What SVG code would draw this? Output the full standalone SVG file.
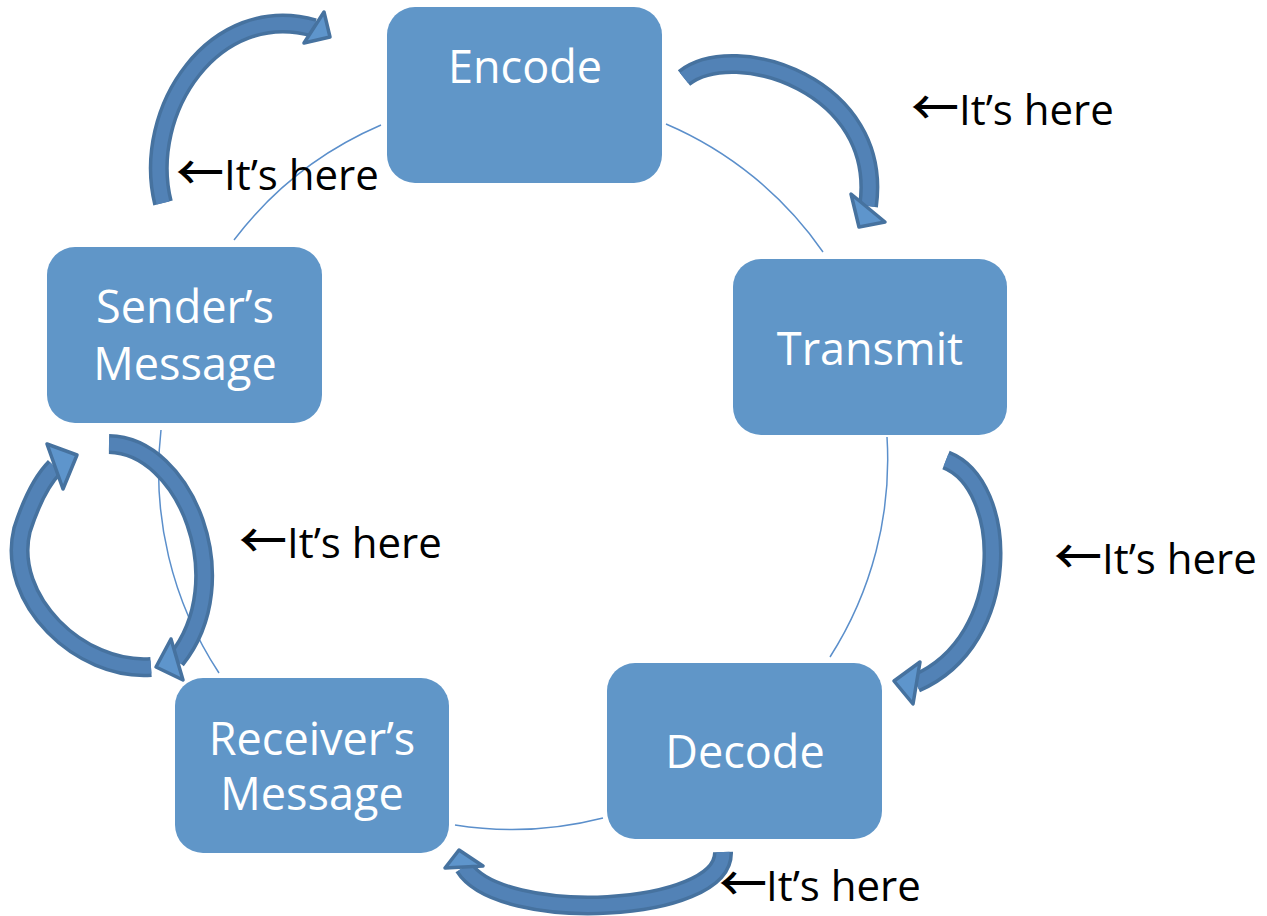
<svg xmlns="http://www.w3.org/2000/svg" width="1267" height="916" viewBox="0 0 1267 916">
<style>
.node rect{fill:#6096C8}
.node text{font-family:"Open Sans","Liberation Sans",sans-serif;font-size:45px;fill:#ffffff;text-anchor:middle}
.conn{fill:none;stroke:#5B8FCB;stroke-width:1.5}
.ao{fill:none;stroke:#46729F;stroke-width:20}
.ai{fill:none;stroke:#5282B6;stroke-width:13}
.head{fill:#5E95CC;stroke:#46729F;stroke-width:3.5;stroke-linejoin:round}
.label{font-family:"Open Sans","Liberation Sans",sans-serif;font-size:42px;fill:#000000}
.ar{font-family:"Noto Sans CJK JP","DejaVu Sans",sans-serif;font-size:48px;font-weight:500}
</style>
<rect width="1267" height="916" fill="#ffffff"/>
<g id="connectors">
<path class="conn" d="M666,124 A366,366 0 0 1 823,252"/>
<path class="conn" d="M887,437 A366,366 0 0 1 830,657"/>
<path class="conn" d="M603,818 A366,366 0 0 1 455,825"/>
<path class="conn" d="M219,673 A366,366 0 0 1 161,430"/>
<path class="conn" d="M234,240 A366,366 0 0 1 381,125"/>
</g>
<g id="node-encode" class="node"><rect x="387" y="7" width="275" height="176" rx="28"/><text x="525" y="83">Encode</text></g>
<g id="node-transmit" class="node"><rect x="733" y="259" width="274" height="176" rx="28"/><text x="870" y="365">Transmit</text></g>
<g id="node-decode" class="node"><rect x="607" y="663" width="275" height="176" rx="28"/><text x="745" y="768">Decode</text></g>
<g id="node-receiver" class="node"><rect x="175" y="678" width="274" height="175" rx="28"/><text x="312" y="755">Receiver’s</text><text x="312" y="810">Message</text></g>
<g id="node-sender" class="node"><rect x="47" y="247" width="275" height="176" rx="28"/><text x="185" y="323">Sender’s</text><text x="185" y="380">Message</text></g>
<g id="arrows">
<g id="arrow-a"><path class="ao" d="M163,203 C140,110 215,0 314,28"/><path class="ai" d="M163,203 C140,110 215,0 314,28"/><polygon class="head" points="324,12 330,37 304,43"/></g>
<g id="arrow-b"><path class="ao" d="M684,78 C735,38 885,85 868,206"/><path class="ai" d="M684,78 C735,38 885,85 868,206"/><polygon class="head" points="851,194 859,227 885,222"/></g>
<g id="arrow-c"><path class="ao" d="M946,460 C1010,485 1015,640 916,683"/><path class="ai" d="M946,460 C1010,485 1015,640 916,683"/><polygon class="head" points="920,662 894,681 913,704"/></g>
<g id="arrow-d"><path class="ao" d="M723,852 C725,915 500,925 464,867"/><path class="ai" d="M723,852 C725,915 500,925 464,867"/><polygon class="head" points="445,868 459,850 483,866"/></g>
<g id="arrow-e1"><path class="ao" d="M109,444 C185,445 240,580 176,660"/><path class="ai" d="M109,444 C185,445 240,580 176,660"/><polygon class="head" points="171,639 156,667 183,680"/></g>
<g id="arrow-e2"><path class="ao" d="M151,667 C80,672 5,600 22,530 C30,505 42,480 55,467"/><path class="ai" d="M151,667 C80,672 5,600 22,530 C30,505 42,480 55,467"/><polygon class="head" points="47,444 77,455 63,489"/></g>
</g>
<g id="labels">
<text class="label" y="125"><tspan class="ar" x="911">←</tspan><tspan x="959">It’s here</tspan></text>
<text class="label" y="190"><tspan class="ar" x="176">←</tspan><tspan x="224">It’s here</tspan></text>
<text class="label" y="558"><tspan class="ar" x="239">←</tspan><tspan x="287">It’s here</tspan></text>
<text class="label" y="574"><tspan class="ar" x="1054">←</tspan><tspan x="1102">It’s here</tspan></text>
<text class="label" y="901"><tspan class="ar" x="719">←</tspan><tspan x="766">It’s here</tspan></text>
</g>
</svg>
